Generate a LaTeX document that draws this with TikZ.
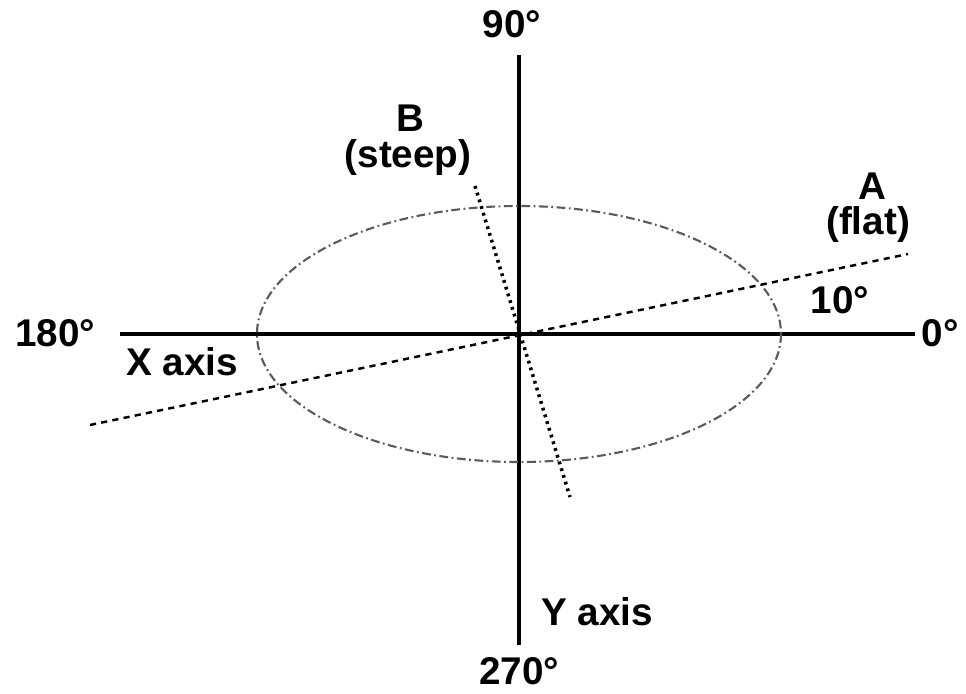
\documentclass[tikz,border=0pt]{standalone}
\usepackage{fontspec}
\setmainfont{Liberation Sans}
\usetikzlibrary{positioning,calc}
\definecolor{ellgray}{HTML}{5A5A5A}

\begin{document}
\begin{tikzpicture}[x=0.02cm, y=-0.02cm,
  lbl/.style={font=\fontsize{22}{24}\selectfont\bfseries, inner sep=1pt},
  axis/.style={line width=1.8pt},
  flatline/.style={line width=1.4pt, dash pattern=on 3.5pt off 3pt},
  steepline/.style={line width=2pt, dash pattern=on 1.6pt off 2.4pt},
  orbit/.style={ellgray, line width=1.2pt, dash pattern=on 5pt off 2pt on 1pt off 2pt}
]
  \useasboundingbox (0,0) rectangle (966,693);
  % axes
  \coordinate (o) at (519,334);
  \coordinate (top) at (519,55);
  \coordinate (bot) at (519,645);
  \coordinate (left) at (120,334);
  \coordinate (right) at (915,334);
  \draw[axis] (top) -- (bot);
  \draw[axis] (left) -- (right);
  % ellipse
  \draw[orbit] (o) ellipse [x radius=262, y radius=128];
  % planes A and B
  \coordinate (a1) at (90,425);
  \coordinate (a2) at (908,254);
  \coordinate (b1) at (475,186);
  \coordinate (b2) at (570,497);
  \draw[flatline] (a1) -- (a2);
  \draw[steepline] (b1) -- (b2);
  % labels
  \node[lbl] (n90) at (512,24) {90°};
  \node[lbl] (n270) at (519,671) {270°};
  \node[lbl] (n180) at (55,333) {180°};
  \node[lbl] (n0) at (940,333) {0°};
  \node[lbl] (xax) at (182,362) {X axis};
  \node[lbl] (yax) at (597,612) {Y axis};
  \node[lbl] (la) at (872,186) {A};
  \node[lbl] (lflat) at (868,225) {(flat)};
  \node[lbl] (n10) at (840,300) {10°};
  \node[lbl] (lb) at (410,118) {B};
  \node[lbl] (lsteep) at (408,158) {(steep)};
\end{tikzpicture}
\end{document}
